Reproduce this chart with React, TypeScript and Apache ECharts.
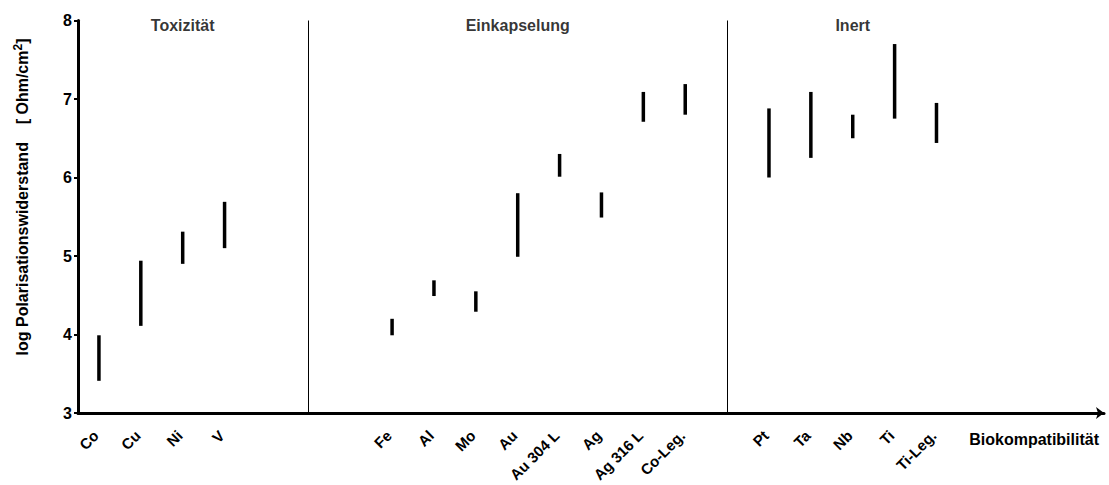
import React, { useEffect, useRef } from "react";
import * as echarts from "echarts";

const categories = ["Co", "Cu", "Ni", "V", "", "", "", "Fe", "Al", "Mo", "Au", "Au 304 L", "Ag", "Ag 316 L", "Co-Leg.", "", "Pt", "Ta", "Nb", "Ti", "Ti-Leg."];
const lowValues: (number | null)[] = [3.41, 4.11, 4.9, 5.1, null, null, null, 3.99, 4.49, 4.29, 4.99, 6.01, 5.49, 6.71, 6.8, null, 6.0, 6.25, 6.5, 6.75, 6.44];
const highValues: (number | null)[] = [3.99, 4.94, 5.31, 5.69, null, null, null, 4.2, 4.69, 4.55, 5.8, 6.3, 5.81, 7.09, 7.19, null, 6.88, 7.09, 6.8, 7.7, 6.95];
const groupNames = ["Toxizität", "Einkapselung", "Inert"];
const groupCenters = [2, 10, 18];
const separators = [5, 15];
const yMin = 3;
const yMax = 8;
const yTitle = "log Polarisationswiderstand    [ Ohm/cm";
const xTitle = "Biokompatibilität";

const FONT = "'Liberation Sans', Arial, sans-serif";

export default function App() {
  const ref = useRef<HTMLDivElement>(null);
  useEffect(() => {
    if (!ref.current) return;
    const chart = echarts.init(ref.current, undefined, { renderer: "svg" });
    const rangeData: any[] = [];
    const labelData: any[] = [];
    categories.forEach((c, i) => {
      if (c !== "") labelData.push([i, yMin, c]);
      if (lowValues[i] != null && highValues[i] != null) rangeData.push([i, lowValues[i], highValues[i]]);
    });
    chart.setOption({
      animation: false,
      textStyle: { fontFamily: FONT },
      grid: { left: 78, right: 5, top: 20.5, bottom: 72, outerBoundsMode: "none", containLabel: false },
      xAxis: {
        type: "value",
        min: -0.5,
        max: 24,
        splitLine: { show: false },
        axisTick: { show: false },
        axisLine: { show: true, onZero: false, lineStyle: { color: "#000", width: 3 }, symbol: ["none", "arrow"], symbolSize: [9, 8] },
        axisLabel: { show: false },
      },
      yAxis: {
        type: "value",
        min: yMin,
        max: yMax,
        interval: 1,
        splitLine: { show: false },
        axisLine: { show: true, onZero: false, lineStyle: { color: "#000", width: 3 } },
        axisTick: { show: true, length: 4, lineStyle: { color: "#000", width: 2 } },
        axisLabel: { color: "#000", fontSize: 16, fontWeight: "bold", margin: 6, fontFamily: FONT },
      },
      series: [
        {
          type: "custom",
          data: rangeData,
          renderItem: (params: any, api: any) => {
            const x = api.value(0);
            const lo = api.coord([x, api.value(1)]);
            const hi = api.coord([x, api.value(2)]);
            return {
              type: "rect",
              shape: { x: lo[0] - 1.75, y: hi[1], width: 3.5, height: lo[1] - hi[1] },
              style: { fill: "#000" },
            };
          },
          markLine: {
            silent: true,
            symbol: "none",
            label: { show: false },
            lineStyle: { color: "#000", width: 1, type: "solid" },
            data: separators.map((s) => ({ xAxis: s })),
          },
        },
        {
          type: "custom",
          data: labelData,
          clip: false,
          renderItem: (params: any, api: any) => {
            const p = api.coord([api.value(0), api.value(1)]);
            return {
              type: "text",
              x: p[0] - 3,
              y: p[1] + 20,
              rotation: Math.PI / 4,
              style: {
                text: labelData[params.dataIndex][2],
                align: "right",
                verticalAlign: "middle",
                fontSize: 15,
                fontWeight: "bold",
                fontFamily: FONT,
                fill: "#000",
              },
            };
          },
        },
        {
          type: "scatter",
          symbolSize: 0,
          data: groupNames.map((n, i) => [groupCenters[i], yMax, n]),
          label: {
            show: true,
            position: "inside",
            offset: [0, 5],
            formatter: (p: any) => p.value[2],
            color: "#000",
            fontSize: 16,
            fontWeight: "bold",
            fontFamily: FONT,
          },
        },
      ],
      graphic: [
        {
          type: "text",
          x: 22,
          y: 197,
          rotation: Math.PI / 2,
          style: {
            text: "{a|" + yTitle + "}{s|2}{a|]}",
            textAlign: "center",
            textVerticalAlign: "middle",
            rich: {
              a: { fontSize: 16, fontWeight: "bold", fontFamily: FONT, fill: "#000" },
              s: { fontSize: 12, fontWeight: "bold", fontFamily: FONT, fill: "#000", padding: [0, 0, 8, 0] },
            },
          },
        },
        {
          type: "text",
          x: 1099,
          y: 439,
          style: {
            text: xTitle,
            textAlign: "right",
            textVerticalAlign: "middle",
            fontSize: 16,
            fontWeight: "bold",
            fontFamily: FONT,
            fill: "#000",
          },
        },
      ],
    });
    return () => chart.dispose();
  }, []);
  return <div ref={ref} style={{ position: "fixed", left: 0, top: 0, width: 1109, height: 485, background: "#fff" }} />;
}
